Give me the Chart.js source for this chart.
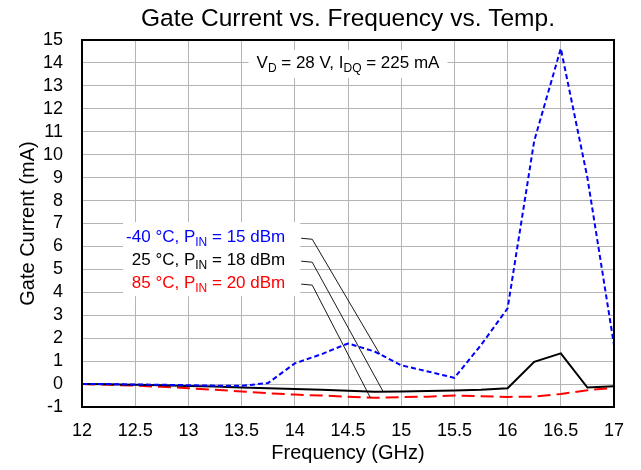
<!DOCTYPE html>
<html><head><meta charset="utf-8">
<script src="https://cdn.jsdelivr.net/npm/chart.js@4"></script>
<style>html,body{margin:0;padding:0;background:#fff}#wrap{width:641px;height:470px}</style>
</head><body><div id="wrap"><canvas id="c" width="641" height="470"></canvas></div>
<script>
// ---- data ----
const frequencies = [12, 12.25, 12.5, 12.75, 13, 13.25, 13.5, 13.75, 14, 14.25, 14.5, 14.75, 15, 15.25, 15.5, 15.75, 16, 16.25, 16.5, 16.75, 17];
const currentM40 = [0, 0, -0.02, -0.03, -0.05, -0.07, -0.08, 0.05, 0.9, 1.3, 1.77, 1.42, 0.82, 0.55, 0.27, 1.7, 3.3, 10.6, 14.63, 9.0, 1.7];
const current25  = [0, -0.01, -0.03, -0.05, -0.08, -0.11, -0.15, -0.18, -0.21, -0.25, -0.29, -0.33, -0.32, -0.3, -0.28, -0.25, -0.18, 0.97, 1.34, -0.15, -0.1];
const current85  = [0, -0.03, -0.07, -0.12, -0.18, -0.25, -0.32, -0.4, -0.46, -0.5, -0.55, -0.6, -0.57, -0.55, -0.5, -0.53, -0.56, -0.55, -0.43, -0.27, -0.16];
const xTickLabels = ['12', '12.5', '13', '13.5', '14', '14.5', '15', '15.5', '16', '16.5', '17'];
const yTickLabels = ['-1', '0', '1', '2', '3', '4', '5', '6', '7', '8', '9', '10', '11', '12', '13', '14', '15'];
const seriesTemps = ['-40 °C', '25 °C', '85 °C'];
const seriesPin = [15, 18, 20];
const seriesColors = ['#0000ff', '#000000', '#ff0000'];
const leaderFreqs = [14.8, 14.83, 14.71];
const legendRowValues = [6.4, 5.4, 4.4];
const chartTitle = 'Gate Current vs. Frequency vs. Temp.';

const FONT = "'Liberation Sans', Arial, Helvetica, sans-serif";
Chart.defaults.color = '#000';
Chart.defaults.font.family = FONT;

const seriesValues = [currentM40, current25, current85];
const toXY = arr => arr.map((v, i) => ({x: frequencies[i], y: v}));

function valueAt(arr, f) {
  for (let i = 0; i < frequencies.length - 1; i++) {
    if (f >= frequencies[i] && f <= frequencies[i + 1]) {
      const t = (f - frequencies[i]) / (frequencies[i + 1] - frequencies[i]);
      return arr[i] + t * (arr[i + 1] - arr[i]);
    }
  }
  return arr[arr.length - 1];
}

function measureRich(ctx, parts, size) {
  const sub = Math.round(size * 0.7);
  let w = 0;
  parts.forEach(p => { ctx.font = (p.sub ? sub : size) + 'px ' + FONT; p.w = ctx.measureText(p.t).width; w += p.w; });
  return w;
}
function drawRich(ctx, parts, x, y, align, size, color) {
  const sub = Math.round(size * 0.7);
  const w = measureRich(ctx, parts, size);
  let cx = align === 'right' ? x - w : (align === 'center' ? x - w / 2 : x);
  const left = cx;
  ctx.fillStyle = color; ctx.textBaseline = 'middle'; ctx.textAlign = 'left';
  parts.forEach(p => {
    ctx.font = (p.sub ? sub : size) + 'px ' + FONT;
    ctx.fillText(p.t, cx, y + (p.sub ? size * 0.32 : 0));
    cx += p.w;
  });
  return {left: left, right: left + w};
}

const annot = {
  id: 'annot',
  afterDatasetsDraw(chart) {
    const ctx = chart.ctx, xs = chart.scales.x, ys = chart.scales.y, a = chart.chartArea;
    ctx.save();
    // title
    ctx.fillStyle = '#000'; ctx.font = '24.5px ' + FONT; ctx.textAlign = 'center'; ctx.textBaseline = 'middle';
    ctx.fillText(chartTitle, (a.left + a.right) / 2, 19);

    // conditions box
    const vParts = [{t: 'V'}, {t: 'D', sub: true}, {t: ' = 28 V, I'}, {t: 'DQ', sub: true}, {t: ' = 225 mA'}];
    const vx = xs.getPixelForValue(14.5), vy = ys.getPixelForValue(14);
    const vw = measureRich(ctx, vParts, 17);
    ctx.fillStyle = '#fff';
    ctx.fillRect(vx - vw / 2 - 8, vy - 13, vw + 16, 28);
    drawRich(ctx, vParts, vx, vy, 'center', 17, '#000');

    // legend box
    const rightX = xs.getPixelForValue(13.91);
    const rows = seriesTemps.map((t, i) => [{t: t + ', P'}, {t: 'IN', sub: true}, {t: ' = ' + seriesPin[i] + ' dBm'}]);
    const widths = rows.map(r => measureRich(ctx, r, 17));
    const rowY = legendRowValues.map(v => ys.getPixelForValue(v));
    const boxL = rightX - Math.max(...widths) - 3, boxR = rightX + 15;
    ctx.fillStyle = '#fff';
    ctx.fillRect(boxL, rowY[0] - 15, boxR - boxL, rowY[2] - rowY[0] + 28);
    rows.forEach((r, i) => drawRich(ctx, r, rightX, rowY[i], 'right', 17, seriesColors[i]));
    // leader lines
    ctx.strokeStyle = '#000'; ctx.lineWidth = 0.9;
    rows.forEach((r, i) => {
      const tx = xs.getPixelForValue(leaderFreqs[i]);
      const ty = ys.getPixelForValue(valueAt(seriesValues[i], leaderFreqs[i]));
      ctx.beginPath();
      ctx.moveTo(boxR + 1, rowY[i] + 1);
      ctx.lineTo(boxR + 12, rowY[i] + 2);
      ctx.lineTo(tx, ty);
      ctx.stroke();
    });

    // frame
    ctx.strokeStyle = '#000'; ctx.lineWidth = 2;
    ctx.strokeRect(a.left, a.top, a.right - a.left, a.bottom - a.top);
    ctx.restore();
  }
};

new Chart(document.getElementById('c'), {
  type: 'line',
  data: {
    datasets: [
      {label: seriesTemps[0], data: toXY(currentM40), borderColor: seriesColors[0], borderWidth: 2, borderDash: [5, 3], pointRadius: 0, tension: 0},
      {label: seriesTemps[1], data: toXY(current25), borderColor: seriesColors[1], borderWidth: 2, pointRadius: 0, tension: 0},
      {label: seriesTemps[2], data: toXY(current85), borderColor: seriesColors[2], borderWidth: 2, borderDash: [13, 6], pointRadius: 0, tension: 0}
    ]
  },
  options: {
    responsive: false, animation: false,
    layout: {padding: {left: 0, right: 27, top: 40, bottom: 0}},
    plugins: {legend: {display: false}, title: {display: false}, tooltip: {enabled: false}},
    scales: {
      x: {
        type: 'linear', min: 12, max: 17,
        afterBuildTicks: s => { s.ticks = xTickLabels.map(v => ({value: parseFloat(v)})); },
        afterFit: s => { s.height = 63; },
        ticks: {font: {size: 18}, padding: 13, color: '#000', autoSkip: false, maxRotation: 0, callback: v => String(v)},
        grid: {color: '#b4b4b4', lineWidth: 1, drawTicks: false},
        border: {display: true, color: '#000', width: 2},
        title: {display: true, text: 'Frequency (GHz)', font: {size: 20}, color: '#000', padding: {top: 0, bottom: 5}}
      },
      y: {
        type: 'linear', min: -1, max: 15,
        afterBuildTicks: s => { s.ticks = yTickLabels.map(v => ({value: parseFloat(v)})); },
        afterFit: s => { s.width = 82; },
        ticks: {font: {size: 18}, padding: 19, color: '#000', autoSkip: false, callback: v => String(v)},
        grid: {color: '#b4b4b4', lineWidth: 1, drawTicks: false},
        border: {display: true, color: '#000', width: 2},
        title: {display: true, text: 'Gate Current (mA)', font: {size: 20}, color: '#000', padding: {top: 16, bottom: 0}}
      }
    }
  },
  plugins: [annot]
});
</script>
</body></html>
